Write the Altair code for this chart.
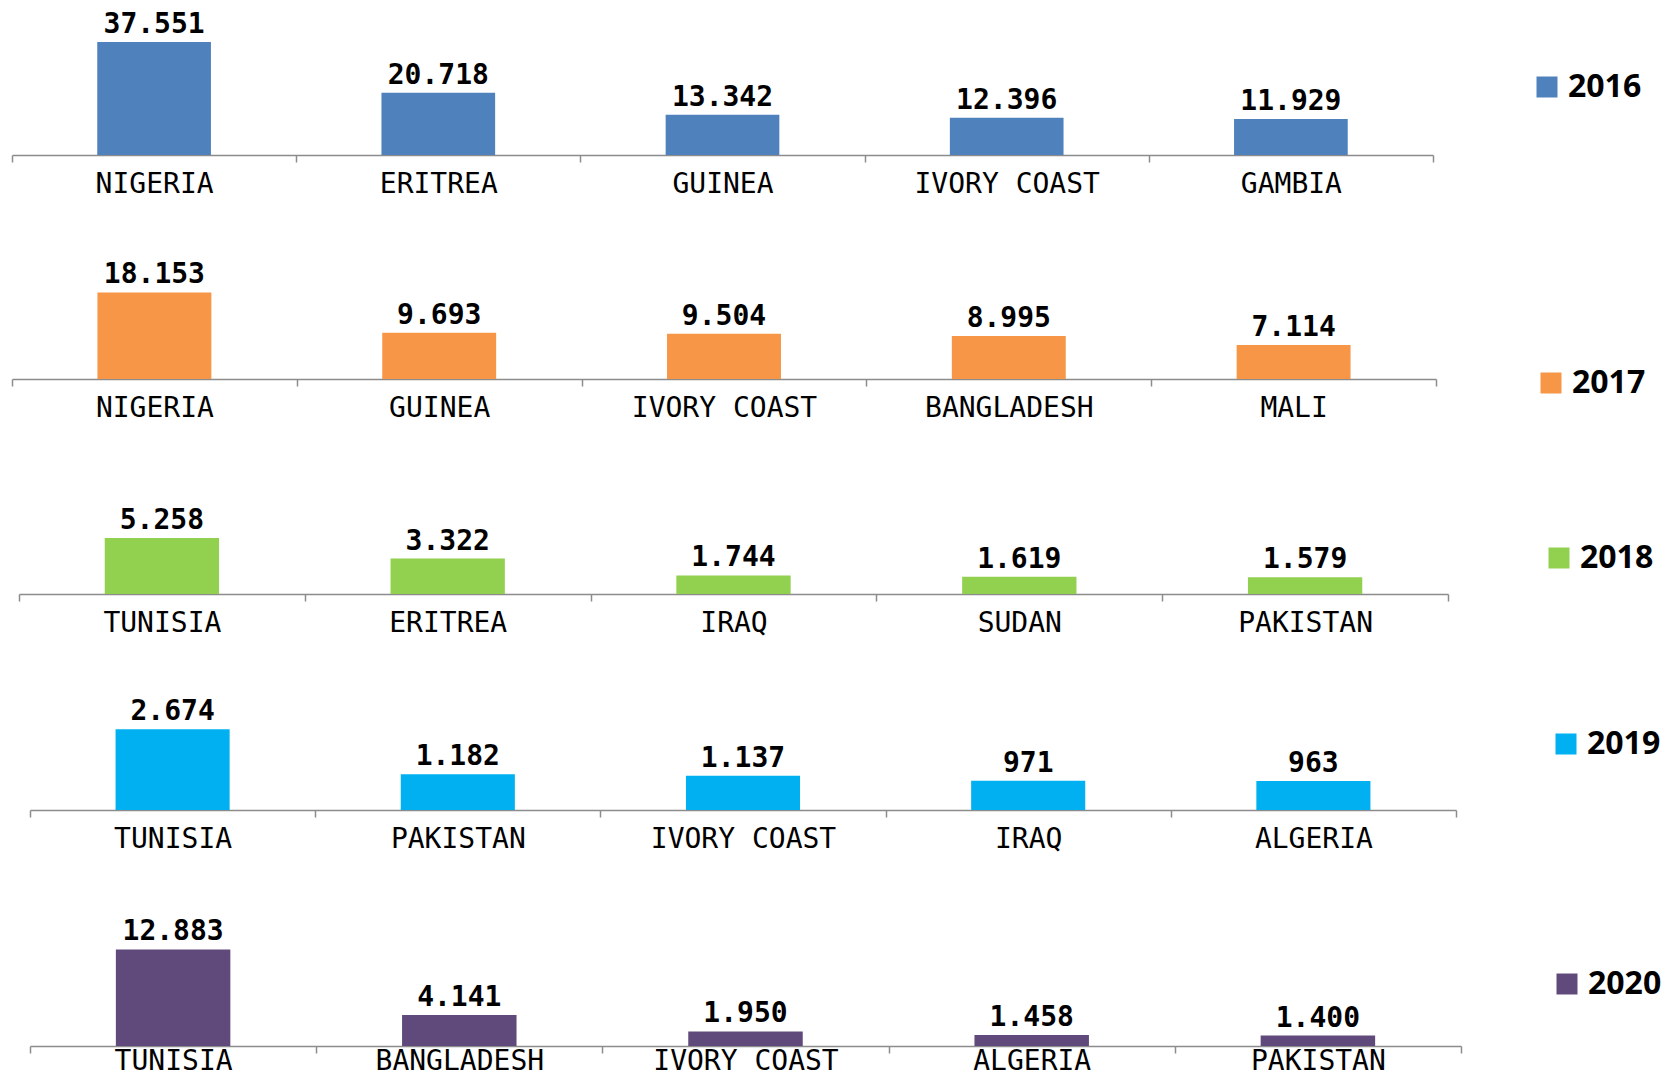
import altair as alt
import pandas as pd

# ---------------- data ----------------
years = ["2016", "2017", "2018", "2019", "2020"]

countries_2016 = ["NIGERIA", "ERITREA", "GUINEA", "IVORY COAST", "GAMBIA"]
values_2016 = [37551, 20718, 13342, 12396, 11929]

countries_2017 = ["NIGERIA", "GUINEA", "IVORY COAST", "BANGLADESH", "MALI"]
values_2017 = [18153, 9693, 9504, 8995, 7114]

countries_2018 = ["TUNISIA", "ERITREA", "IRAQ", "SUDAN", "PAKISTAN"]
values_2018 = [5258, 3322, 1744, 1619, 1579]

countries_2019 = ["TUNISIA", "PAKISTAN", "IVORY COAST", "IRAQ", "ALGERIA"]
values_2019 = [2674, 1182, 1137, 971, 963]

countries_2020 = ["TUNISIA", "BANGLADESH", "IVORY COAST", "ALGERIA", "PAKISTAN"]
values_2020 = [12883, 4141, 1950, 1458, 1400]

colors = ["#4F81BD", "#F79646", "#92D050", "#00B0F0", "#604A7B"]

all_countries = [countries_2016, countries_2017, countries_2018, countries_2019, countries_2020]
all_values = [values_2016, values_2017, values_2018, values_2019, values_2020]

# ---------------- layout (pixels / scale settings) ----------------
W = 1452
heights = [147, 224, 215, 216, 236]
x_ranges = [[4, 1425], [4, 1428], [11, 1440], [22, 1448], [22, 1453]]
label_pad = [8, 8, 8, 8, -6]
legend_x = [1523, 1527, 1535, 1542, 1543]
legend_center = [79, 228, 179, 150, 174]

# units per pixel of bar height for each row
units_per_px = [332.3, 209.6, 93.9, 33.1, 133.4]

AXIS_COLOR = "#8C8C8C"


def fmt(v):
    return f"{v:,}".replace(",", ".")


panels = []
for i, year in enumerate(years):
    df = pd.DataFrame({
        "country": all_countries[i],
        "value": all_values[i],
        "year": year,
    })
    df["label"] = [fmt(v) for v in df["value"]]

    x = alt.X(
        "country:N",
        sort=all_countries[i],
        scale=alt.Scale(range=x_ranges[i], paddingInner=0, paddingOuter=0),
        axis=alt.Axis(
            title=None,
            labelAngle=0,
            labelFont="DejaVu Sans Mono",
            labelFontSize=28,
            labelColor="#000000",
            labelPadding=label_pad[i],
            labelLimit=500,
            domainColor=AXIS_COLOR,
            domainWidth=1.5,
            tickColor=AXIS_COLOR,
            tickWidth=1.5,
            tickSize=7,
            tickBand="extent",
            grid=False,
        ),
    )
    y = alt.Y(
        "value:Q",
        scale=alt.Scale(domain=[0, heights[i] * units_per_px[i]], nice=False, zero=True),
        axis=None,
    )

    bars = alt.Chart(df).mark_bar(width=alt.RelativeBandSize(0.4)).encode(
        x=x,
        y=y,
        color=alt.Color(
            "year:N",
            scale=alt.Scale(domain=[year], range=[colors[i]]),
            legend=alt.Legend(
                title=None,
                orient="none",
                legendX=legend_x[i],
                legendY=legend_center[i] - 16,
                symbolType="square",
                symbolSize=441,
                symbolStrokeWidth=0,
                symbolOpacity=1,
                labelFont="Open Sans",
                labelFontWeight="bold",
                labelFontSize=32,
                labelColor="#000000",
                labelOffset=5,
                padding=0,
            ),
        ),
    )
    text = alt.Chart(df).mark_text(
        font="DejaVu Sans Mono",
        fontWeight="bold",
        fontSize=28,
        baseline="alphabetic",
        dy=-9,
        color="#000000",
    ).encode(x=x, y=y, text="label:N")

    panels.append(alt.layer(bars, text).properties(width=W, height=heights[i]))

chart = alt.vconcat(*panels, spacing=0, bounds="flush").resolve_scale(
    x="independent", y="independent", color="independent"
).resolve_legend(color="independent").properties(
    padding={"left": 0, "top": 0, "right": 0, "bottom": 0}
).configure_view(stroke=None)

chart.save("out.html", embed_options={"renderer": "svg", "actions": False})
